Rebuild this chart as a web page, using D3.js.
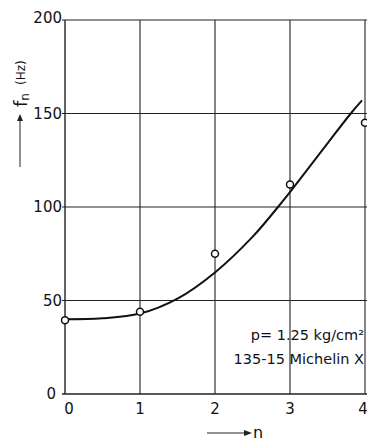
<!DOCTYPE html>
<html><head><meta charset="utf-8">
<script src="https://cdn.jsdelivr.net/npm/d3@7"></script>
<style>body{margin:0;background:#fff}svg{display:block}text{font-family:"DejaVu Sans",sans-serif;fill:#111}</style>
</head><body>
<script>
const xTicks = [0, 1, 2, 3, 4];
const xTickLabels = ["0", "1", "2", "3", "4"];
const yTicks = [0, 50, 100, 150, 200];
const yTickLabels = ["0", "50", "100", "150", "200"];
const measN = [0, 1, 2, 3, 4];
const measF = [39.5, 44, 75, 112, 145];
const curveN = [0, 0.5, 1, 1.5, 2, 2.5, 2.84, 3, 3.5, 3.81, 3.96];
const curveF = [40, 40.5, 43, 51, 65, 84, 100, 108, 134, 150, 157];
const noteLines = ["p= 1.25  kg/cm²", "135-15 Michelin X"];

const W = 367, H = 441;
const svg = d3.select("body").append("svg").attr("width", W).attr("height", H);
const x = d3.scaleLinear().domain([0, 4]).range([65, 365]);
const y = d3.scaleLinear().domain([0, 200]).range([394, 20]);

const g = svg.append("g");
g.selectAll(".vg").data(xTicks).join("line")
  .attr("x1", d => x(d)).attr("x2", d => x(d))
  .attr("y1", y(200)).attr("y2", y(0))
  .attr("stroke", "#222").attr("stroke-width", d => d === 0 ? 1.4 : 1.1);
g.selectAll(".hg").data(yTicks).join("line")
  .attr("x1", x(0) - 3).attr("x2", W)
  .attr("y1", d => y(d)).attr("y2", d => y(d))
  .attr("stroke", "#222").attr("stroke-width", d => d === 0 ? 1.4 : 1.1);

g.selectAll(".yl").data(yTicks).join("text")
  .attr("x", d => d === 0 ? x(0) - 9 : x(0) - 3)
  .attr("y", d => y(d) + (d === 200 ? 3 : 5))
  .attr("text-anchor", "end").attr("font-size", 15)
  .text((d, i) => yTickLabels[i]);
g.selectAll(".xl").data(xTicks).join("text")
  .attr("x", d => d === 0 ? x(d) + 4 : (d === 4 ? x(d) - 2 : x(d)))
  .attr("y", 414).attr("text-anchor", "middle").attr("font-size", 15)
  .text((d, i) => xTickLabels[i]);

const arrow = svg.append("g");
arrow.append("line").attr("x1", 207).attr("x2", 250).attr("y1", 433).attr("y2", 433)
  .attr("stroke", "#222").attr("stroke-width", 1);
arrow.append("path").attr("d", "M244,430 L252,433 L244,436 Z").attr("fill", "#222");
arrow.append("text").attr("x", 253).attr("y", 438).attr("font-size", 16).text("n");

const yt = svg.append("g").attr("transform", "translate(27,0) rotate(-90)");
yt.append("line").attr("x1", -167).attr("x2", -116).attr("y1", -7).attr("y2", -7)
  .attr("stroke", "#222").attr("stroke-width", 1);
yt.append("path").attr("d", "M-121,-10 L-114,-7 L-121,-4 Z").attr("fill", "#222");
const tt = yt.append("text").attr("x", -107).attr("y", 0).attr("font-size", 18);
tt.append("tspan").text("f");
tt.append("tspan").attr("font-size", 12).attr("dy", 2).text("n");
tt.append("tspan").attr("font-size", 12).attr("dy", -4).attr("dx", 8).text("(Hz)");

const line = d3.line().x((d, i) => x(curveN[i])).y((d, i) => y(curveF[i])).curve(d3.curveCatmullRom);
svg.append("path").datum(curveF).attr("d", line)
  .attr("fill", "none").attr("stroke", "#111").attr("stroke-width", 2);

svg.selectAll(".pt").data(measF).join("circle")
  .attr("cx", (d, i) => x(measN[i])).attr("cy", d => y(d)).attr("r", 3.5)
  .attr("fill", "#fff").attr("stroke", "#111").attr("stroke-width", 1.5);

svg.selectAll(".note").data(noteLines).join("text")
  .attr("x", 364).attr("y", (d, i) => 340 + i * 24)
  .attr("text-anchor", "end").attr("font-size", 14.5)
  .text(d => d);
</script>
</body></html>
